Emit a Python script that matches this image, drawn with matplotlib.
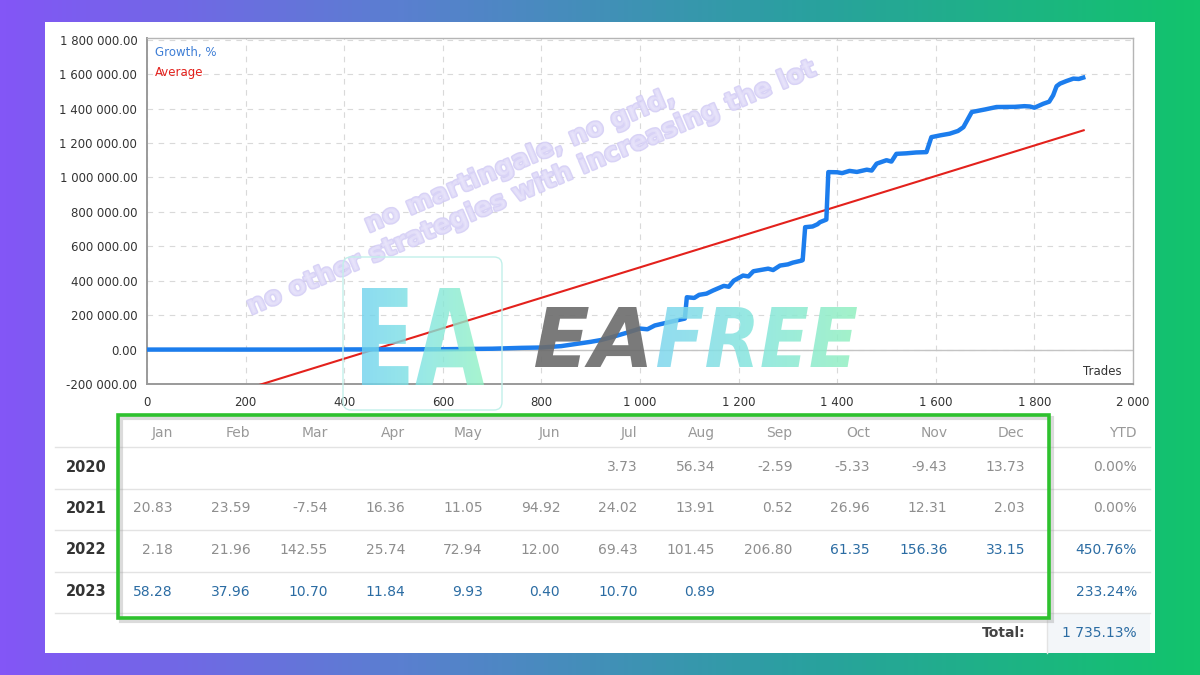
import numpy as np
import matplotlib
matplotlib.use("Agg")
import matplotlib.pyplot as plt
from matplotlib.patches import Rectangle, FancyBboxPatch, PathPatch
from matplotlib.colors import LinearSegmentedColormap
from matplotlib.textpath import TextPath
from matplotlib.font_manager import FontProperties
from matplotlib.transforms import Affine2D
import matplotlib.patheffects as pe

# ---------------- data ----------------
trades = [0, 300, 600, 700, 760, 800, 840, 871, 900, 920, 940, 970, 1000, 1015, 1030,
          1060, 1091, 1095, 1110, 1120, 1135, 1148, 1170, 1180, 1190, 1209, 1220, 1230,
          1260, 1270, 1284, 1300, 1310, 1328, 1330, 1335, 1350, 1360, 1365, 1378, 1382,
          1400, 1410, 1425, 1440, 1460, 1470, 1480, 1500, 1510, 1520, 1540, 1560, 1581,
          1591, 1610, 1628, 1645, 1656, 1673, 1700, 1723, 1760, 1780, 1791, 1800, 1818,
          1830, 1838, 1845, 1852, 1865, 1879, 1890, 1899]
growth = [0, 0, 2000, 5000, 10000, 12000, 20000, 33000, 45000, 55000, 70000, 95000,
          122000, 118000, 140000, 160000, 180000, 304000, 300000, 318000, 325000, 343000,
          370000, 365000, 400000, 430000, 425000, 455000, 470000, 462000, 488000, 495000,
          505000, 517000, 520000, 711000, 715000, 728000, 740000, 755000, 1031000,
          1030000, 1025000, 1038000, 1032000, 1045000, 1040000, 1080000, 1100000,
          1092000, 1137000, 1140000, 1145000, 1147000, 1234000, 1245000, 1254000,
          1270000, 1292000, 1380000, 1395000, 1409000, 1410000, 1414000, 1412000,
          1405000, 1428000, 1440000, 1477000, 1530000, 1545000, 1560000, 1574000,
          1572000, 1580000]
avg_trades = [0, 1900]
avg_values = [-407000, 1274000]

x_ticks = [0, 200, 400, 600, 800, 1000, 1200, 1400, 1600, 1800, 2000]
y_ticks = [-200000, 0, 200000, 400000, 600000, 800000, 1000000, 1200000,
           1400000, 1600000, 1800000]

months = ["Jan", "Feb", "Mar", "Apr", "May", "Jun", "Jul", "Aug", "Sep", "Oct", "Nov", "Dec"]
years = ["2020", "2021", "2022", "2023"]
monthly_2020 = [None, None, None, None, None, None, 3.73, 56.34, -2.59, -5.33, -9.43, 13.73]
monthly_2021 = [20.83, 23.59, -7.54, 16.36, 11.05, 94.92, 24.02, 13.91, 0.52, 26.96, 12.31, 2.03]
monthly_2022 = [2.18, 21.96, 142.55, 25.74, 72.94, 12.00, 69.43, 101.45, 206.80, 61.35, 156.36, 33.15]
monthly_2023 = [58.28, 37.96, 10.70, 11.84, 9.93, 0.40, 10.70, 0.89, None, None, None, None]
ytd = [0.00, 0.00, 450.76, 233.24]
total = 1735.13

monthly = [monthly_2020, monthly_2021, monthly_2022, monthly_2023]

# ---------------- figure ----------------
W, H = 1200, 675
fig = plt.figure(figsize=(12, 6.75), dpi=100)

# background gradient
ax_bg = fig.add_axes([0, 0, 1, 1])
ax_bg.set_axis_off()
bg_cmap = LinearSegmentedColormap.from_list("bg", ["#8356f6", "#5a7fd0", "#2aa0a0", "#12c46c"])
grad = np.tile(np.linspace(0, 1, 600), (10, 1))
ax_bg.imshow(grad, cmap=bg_cmap, extent=[0, W, H, 0], aspect="auto")
ax_bg.add_patch(Rectangle((45, 22), 1110, 631, facecolor="white", edgecolor="none"))
ax_bg.set_xlim(0, W)
ax_bg.set_ylim(H, 0)

# chart axes
L, R, T, B = 147, 1133, 38, 384
ax = fig.add_axes([L / W, (H - B) / H, (R - L) / W, (B - T) / H])
ax.set_xlim(0, 2000)
ax.set_ylim(-200000, 1810000)
ax.set_xticks(x_ticks)
ax.set_yticks(y_ticks)
ax.set_xticklabels([f"{v:,}".replace(",", " ") for v in x_ticks])
ax.set_yticklabels([f"{v:,.2f}".replace(",", " ") for v in y_ticks])
ax.tick_params(length=0, labelsize=8.5, labelcolor="#333333")
ax.tick_params(axis="y", pad=7)
ax.tick_params(axis="x", pad=9)
ax.grid(True, linestyle=(0, (5, 5)), color="#d9d9d9", linewidth=0.8)
ax.set_axisbelow(True)
for s in ax.spines.values():
    s.set_color("#b5b5b5")
    s.set_linewidth(1.0)
ax.spines["left"].set_color("#9a9a9a")
ax.spines["left"].set_linewidth(1.4)
ax.spines["bottom"].set_color("#9a9a9a")
ax.spines["bottom"].set_linewidth(1.4)
ax.axhline(0, color="#c4c4c4", linewidth=1.0, zorder=1)

ax.plot(avg_trades, avg_values, color="#e3211c", linewidth=1.5, zorder=3)
ax.plot(trades, growth, color="#1c7ded", linewidth=3.2, zorder=4, solid_joinstyle="round")

ax.text(0.008, 0.957, "Growth, %", transform=ax.transAxes, color="#3f7fd6",
        fontsize=8.5, ha="left", va="center")
ax.text(0.008, 0.899, "Average", transform=ax.transAxes, color="#e3211c",
        fontsize=8.5, ha="left", va="center")
ax.text(0.988, 0.035, "Trades", transform=ax.transAxes, color="#333333",
        fontsize=8.5, ha="right", va="center")

# overlay axes (pixel coordinates) for watermark and table
ax_ov = fig.add_axes([0, 0, 1, 1])
ax_ov.patch.set_alpha(0)
ax_ov.set_axis_off()

# watermark text
wm_effect = [pe.withStroke(linewidth=2.0, foreground="#cfc8f4")]
ax_ov.text(520, 161, "no martingale, no grid,", rotation=23, rotation_mode="anchor",
           ha="center", va="center", fontsize=18.5, fontweight="bold", color="#e6e2fa",
           path_effects=wm_effect, alpha=0.8)
ax_ov.text(532, 188, "no other strategies with increasing the lot", rotation=23,
           rotation_mode="anchor", ha="center", va="center", fontsize=18.5,
           fontweight="bold", color="#e6e2fa", path_effects=wm_effect, alpha=0.8)


def fit_text_path(text, box, prop):
    tp = TextPath((0, 0), text, size=100, prop=prop)
    ext = tp.get_extents()
    x0, y0, x1, y1 = box
    sx = (x1 - x0) / ext.width
    sy = (y1 - y0) / ext.height
    tr = Affine2D().translate(-ext.x0, -ext.y0).scale(sx, -sy).translate(x0, y1)
    return tr.transform_path(tp)


def gradient_fill(path, box, colors, alpha):
    patch = PathPatch(path, transform=ax_ov.transData, facecolor="none", edgecolor="none")
    ax_ov.add_patch(patch)
    cm = LinearSegmentedColormap.from_list("g", colors)
    g = np.tile(np.linspace(0, 1, 200), (4, 1))
    x0, y0, x1, y1 = box
    im = ax_ov.imshow(g, cmap=cm, extent=[x0, x1, y1, y0], aspect="auto", alpha=alpha,
                      zorder=5)
    im.set_clip_path(patch)


bold_it = FontProperties(family="DejaVu Sans", weight="bold", style="italic")
bold = FontProperties(family="DejaVu Sans", weight="bold")

# logo frame
ax_ov.add_patch(FancyBboxPatch((343, 257), 159, 153, boxstyle="round,pad=0,rounding_size=8",
                               facecolor="none", edgecolor="#c2f0ea", linewidth=1.0, zorder=4))
icon_box = (362, 288, 484, 385)
gradient_fill(fit_text_path("EA", icon_box, bold), icon_box,
              ["#6fd3ee", "#80e4e0", "#92f2c4"], 0.8)
ea_box = (535, 307, 647, 367)
ax_ov.add_patch(PathPatch(fit_text_path("EA", ea_box, bold_it), transform=ax_ov.transData,
                          facecolor="#6c6c6c", edgecolor="none", alpha=0.9, zorder=5))
free_box = (657, 307, 857, 367)
gradient_fill(fit_text_path("FREE", free_box, bold_it), free_box,
              ["#7fd6ee", "#86e6dc", "#93f0c0"], 0.85)

# ---------------- table ----------------
col_right = [173 + i * 77.45 for i in range(len(months))]
ytd_right = 1137
header_y = 433
row_y = [467 + i * 41.5 for i in range(len(years))]
total_y = 633
gray = "#8e8e8e"
blue = "#2b6ca3"
fs = 10

ax_ov.add_patch(Rectangle((1047, 613), 103, 40, facecolor="#f3f6f9", edgecolor="none", zorder=1))
for yl in [447, 488.5, 530, 571.5, 613]:
    ax_ov.plot([55, 1150], [yl, yl], color="#e3e3e3", linewidth=1.0, zorder=2)
ax_ov.plot([1047, 1047], [613, 653], color="#e3e3e3", linewidth=1.0, zorder=2)

for m, xr in zip(months, col_right):
    ax_ov.text(xr, header_y, m, ha="right", va="center", fontsize=fs, color="#999999")
ax_ov.text(ytd_right, header_y, "YTD", ha="right", va="center", fontsize=fs, color="#999999")

for r, (yr, vals, yv, yy) in enumerate(zip(years, monthly, ytd, row_y)):
    ax_ov.text(66, yy, yr, ha="left", va="center", fontsize=10.5, fontweight="bold",
               color="#333333")
    for c, (v, xr) in enumerate(zip(vals, col_right)):
        if v is None:
            continue
        col = blue if (r == 2 and c >= 9) or r == 3 else gray
        ax_ov.text(xr, yy, f"{v:.2f}", ha="right", va="center", fontsize=fs, color=col)
    ax_ov.text(ytd_right, yy, f"{yv:.2f}%", ha="right", va="center", fontsize=fs,
               color=blue if yv != 0 else gray)

ax_ov.text(1025, total_y, "Total:", ha="right", va="center", fontsize=fs,
           fontweight="bold", color="#444444")
ax_ov.text(ytd_right, total_y, f"{total:,.2f}%".replace(",", " "), ha="right", va="center",
           fontsize=fs, color=blue)

# green highlight box with shadow
ax_ov.add_patch(Rectangle((121, 418), 931, 203, facecolor="none", edgecolor="#9a9a9a",
                          linewidth=3, alpha=0.35, zorder=6))
ax_ov.add_patch(Rectangle((118, 415), 931, 203, facecolor="none", edgecolor="#2ec12e",
                          linewidth=2.6, zorder=7))

ax_ov.set_xlim(0, W)
ax_ov.set_ylim(H, 0)

fig.savefig("out.png", dpi=100)
